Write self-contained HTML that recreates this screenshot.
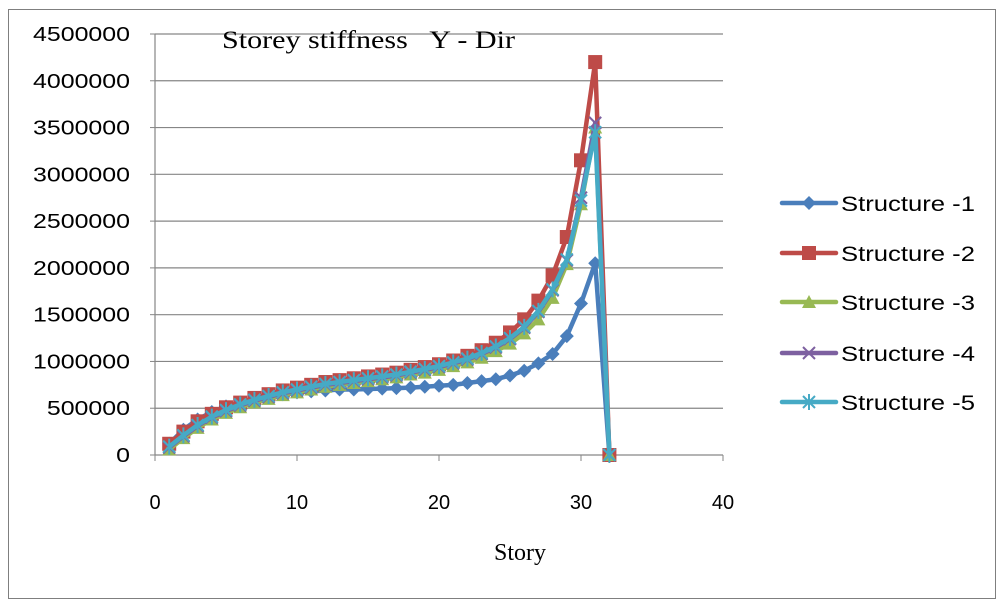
<!DOCTYPE html>
<html><head><meta charset="utf-8"><style>
html,body{margin:0;padding:0;background:#fff;}
svg{display:block;}
</style></head><body>
<svg id="chart" width="1005" height="608" xmlns="http://www.w3.org/2000/svg">
<rect x="8.5" y="9.5" width="987" height="589" fill="#fff" stroke="#7f7f7f" stroke-width="1"/>
<g id="grid"></g>
<g id="axes"></g>
<g id="series"></g>
<text x="222" y="48" font-family="Liberation Serif, serif" font-size="25" textLength="293" lengthAdjust="spacingAndGlyphs">Storey stiffness&#160;&#160; Y - Dir</text>
<text x="520" y="560" text-anchor="middle" font-family="Liberation Serif, serif" font-size="24">Story</text>
<g id="legend"></g>
</svg>
<script>
const stories=[1,2,3,4,5,6,7,8,9,10,11,12,13,14,15,16,17,18,19,20,21,22,23,24,25,26,27,28,29,30,31,32];
const s1=[120000,270000,380000,460000,520000,560000,600000,630000,650000,670000,680000,690000,700000,700000,705000,710000,715000,720000,730000,740000,750000,770000,790000,810000,850000,900000,980000,1080000,1270000,1620000,2050000,0];
const s2=[120000,250000,360000,440000,510000,560000,610000,650000,690000,720000,750000,780000,800000,820000,840000,860000,880000,910000,940000,970000,1010000,1060000,1120000,1200000,1310000,1450000,1650000,1920000,2330000,3150000,4200000,0];
const s3=[60000,180000,290000,380000,450000,510000,560000,600000,640000,670000,700000,730000,750000,770000,790000,810000,830000,860000,880000,910000,950000,990000,1040000,1110000,1190000,1300000,1450000,1680000,2040000,2680000,3500000,0];
const s4=[80000,200000,310000,400000,470000,530000,580000,620000,660000,690000,720000,750000,770000,790000,810000,830000,850000,880000,910000,940000,980000,1020000,1080000,1150000,1240000,1360000,1530000,1760000,2080000,2750000,3550000,0];
const s5=[90000,210000,320000,410000,480000,540000,590000,630000,670000,700000,730000,760000,780000,800000,820000,840000,860000,890000,920000,950000,990000,1030000,1090000,1160000,1250000,1370000,1540000,1770000,2090000,2720000,3450000,0];
const names=["Structure -1","Structure -2","Structure -3","Structure -4","Structure -5"];
const yTicks=[0,500000,1000000,1500000,2000000,2500000,3000000,3500000,4000000,4500000];
const xTicks=[0,10,20,30,40];
const colors=["#4a7ebb","#be4b48","#98b954","#7d60a0","#46aac5"];
const markers=["diamond","square","triangle","x","star"];
const NS="http://www.w3.org/2000/svg";
const X0=155,X1=723,Y0=455,Y1=34;
const xs=v=>X0+(v-0)/40*(X1-X0);
const ys=v=>Y0-(v/4500000)*(Y0-Y1);
function mk(t,a,p){const e=document.createElementNS(NS,t);for(const k in a)e.setAttribute(k,a[k]);p.appendChild(e);return e;}
const grid=document.getElementById('grid'),axes=document.getElementById('axes'),ser=document.getElementById('series'),leg=document.getElementById('legend');
yTicks.forEach(t=>{
  const l=mk('line',{x1:X0,x2:X1,y1:ys(t),y2:ys(t),stroke:'#868686','stroke-width':1.2},grid);
  
  
  mk('line',{x1:X0-5,x2:X0,y1:ys(t),y2:ys(t),stroke:'#868686'},axes);
  const s=String(t);
  const tx=mk('text',{x:X0-25,y:ys(t)+7,'text-anchor':'end','font-family':'Liberation Sans, sans-serif','font-size':20,textLength:(97*s.length/7),lengthAdjust:'spacingAndGlyphs'},axes);
  tx.textContent=s;
  
  
});
mk('line',{x1:X0,x2:X0,y1:Y1,y2:Y0,stroke:'#868686','stroke-width':1.2},axes);
xTicks.forEach(t=>{
  mk('line',{x1:xs(t),x2:xs(t),y1:Y0,y2:Y0+6,stroke:'#868686'},axes);
  const tx=mk('text',{x:xs(t),y:Y0+54,'text-anchor':'middle','font-family':'Liberation Sans, sans-serif','font-size':20},axes);
  tx.textContent=t;
  
  
});
function marker(type,x,y,c,p){
  let e;
  if(type==='diamond')e=mk('polygon',{points:`${x},${y-7} ${x+7},${y} ${x},${y+7} ${x-7},${y}`,fill:c},p);
  else if(type==='square')e=mk('rect',{x:x-7,y:y-7,width:14,height:14,fill:c},p);
  else if(type==='triangle')e=mk('polygon',{points:`${x},${y-7} ${x+7},${y+6} ${x-7},${y+6}`,fill:c},p);
  else if(type==='x')e=mk('path',{d:`M${x-6},${y-6}L${x+6},${y+6}M${x-6},${y+6}L${x+6},${y-6}`,stroke:c,'stroke-width':2},p);
  else e=mk('path',{d:`M${x-6},${y-6}L${x+6},${y+6}M${x-6},${y+6}L${x+6},${y-6}M${x},${y-8}L${x},${y+8}`,stroke:c,'stroke-width':2},p);
  return e;
}
[s1,s2,s3,s4,s5].forEach((d,i)=>{
  const g=mk('g',{},ser);
  
  
  const pts=d.map((v,j)=>xs(stories[j])+','+ys(v)).join(' ');
  const pl=mk('polyline',{points:pts,fill:'none',stroke:colors[i],'stroke-width':4.5,'stroke-linejoin':'round'},g);
  
  
  d.forEach((v,j)=>{
    const m=marker(markers[i],xs(stories[j]),ys(v),colors[i],g);
    
    
  });
});
const ly=[203,253,302,353,402];
names.forEach((n,i)=>{
  const g=mk('g',{},leg);
  
  
  mk('line',{x1:782,x2:836,y1:ly[i],y2:ly[i],stroke:colors[i],'stroke-width':4.5,'stroke-linecap':'round'},g);
  marker(markers[i],809,ly[i],colors[i],g);
  const t=mk('text',{x:841,y:ly[i]+8,'font-family':'Liberation Sans, sans-serif','font-size':21,textLength:134,lengthAdjust:'spacingAndGlyphs'},g);
  t.textContent=n;
});
</script>
</body></html>
